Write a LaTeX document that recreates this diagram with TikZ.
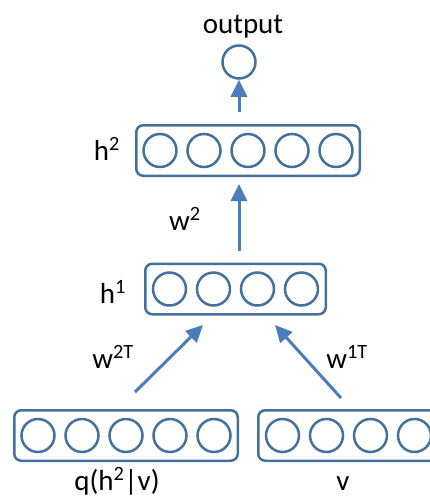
\documentclass[tikz,border=0pt]{standalone}
\usepackage{fontspec}
\setmainfont{Carlito}
\usetikzlibrary{arrows.meta}

\definecolor{boxblue}{HTML}{41719C}
\definecolor{arrowblue}{HTML}{4A7EBB}

\tikzset{
  layer/.style={draw=boxblue, line width=2.5pt, rounded corners=7pt, minimum height=50.5pt, inner sep=0pt},
  unit/.style={circle, draw=boxblue, line width=2.5pt, minimum size=33pt, inner sep=0pt},
  conn/.style={draw=arrowblue, line width=3pt, -{Triangle[length=17pt,width=16pt]}},
  lbl/.style={font=\fontsize{29}{29}\selectfont, anchor=base, inner sep=0pt},
}

\begin{document}
\begin{tikzpicture}[x=1pt,y=-1pt]
\useasboundingbox (0,0) rectangle (430,496);

% output unit
\node[unit] (out) at (239,62) {};
\node[lbl] (outlbl) at (243,33) {output};

% hidden layers
\node[layer, minimum width=223.5pt] (h2) at (248,150.5) {};
\foreach \i in {1,...,5}
  \node[unit] (h2u\i) at ({116+44*\i},150.5) {};
\node[lbl] (h2lbl) at (107,160) {h\textsuperscript{2}};

\node[layer, minimum width=180.5pt] (h1) at (235.5,289) {};
\foreach \i in {1,...,4}
  \node[unit] (h1u\i) at ({125.5+44*\i},289) {};
\node[lbl] (h1lbl) at (113,303) {h\textsuperscript{1}};

% bottom layers
\node[layer, minimum width=223.5pt] (q) at (126,435.5) {};
\foreach \i in {1,...,5}
  \node[unit] (qu\i) at ({-6+44*\i},435.5) {};
\node[lbl] (qlbl) at (117,490) {q(h\textsuperscript{2}|v)};

\node[layer, minimum width=180.5pt] (v) at (348.5,435.5) {};
\foreach \i in {1,...,4}
  \node[unit] (vu\i) at ({238.5+44*\i},435.5) {};
\node[lbl] (vlbl) at (343,490) {v};

% connections
\draw[conn, shorten <=12pt] (h2.north -| out) -- (out);
\draw[conn, shorten <=11.75pt, shorten >=7pt] (h1.north -| out) -- (h2.south -| out);
\node[lbl] (w2) at (185,230) {w\textsuperscript{2}};

\coordinate (qtail) at (135,392);
\coordinate (vtail) at (341,398);
\coordinate (h1in) at (203,325);
\coordinate (h1inr) at (275,325);
\draw[conn] (qtail) -- (h1in);
\draw[conn] (vtail) -- (h1inr);
\node[lbl] (w2T) at (113,368) {w\textsuperscript{2T}};
\node[lbl] (w1T) at (347,368) {w\textsuperscript{1T}};
\end{tikzpicture}
\end{document}
